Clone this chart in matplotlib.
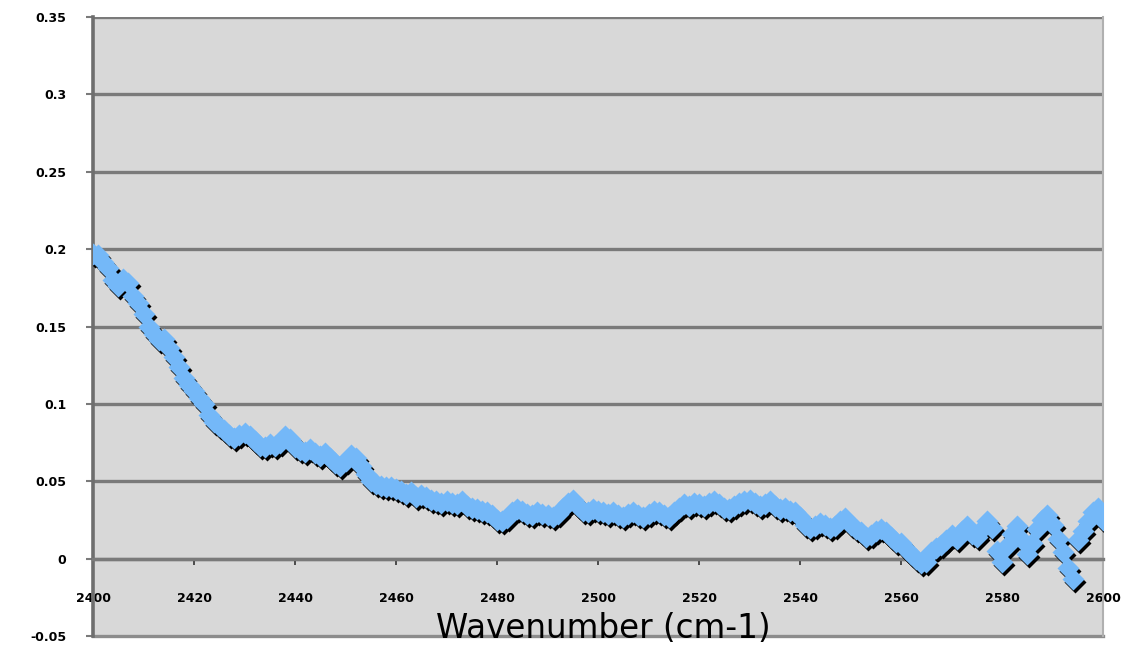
import numpy as np
import matplotlib.pyplot as plt
import matplotlib.transforms as mtransforms

# absorbance spectrum, one reading per wavenumber (cm-1)
wavenumber = np.arange(2400, 2601, 1)
absorbance = [
    0.197, 0.196, 0.192, 0.188, 0.180, 0.176, 0.181, 0.178, 0.170, 0.165,
    0.158, 0.150, 0.145, 0.141, 0.142, 0.136, 0.130, 0.124, 0.117, 0.112,
    0.108, 0.104, 0.100, 0.093, 0.088, 0.086, 0.083, 0.080, 0.078, 0.080,
    0.081, 0.079, 0.076, 0.073, 0.072, 0.074, 0.073, 0.075, 0.079, 0.077,
    0.072, 0.070, 0.069, 0.071, 0.068, 0.066, 0.068, 0.065, 0.062, 0.060,
    0.063, 0.067, 0.065, 0.060, 0.055, 0.050, 0.048, 0.047, 0.046, 0.046,
    0.045, 0.044, 0.042, 0.043, 0.040, 0.041, 0.040, 0.038, 0.037, 0.036,
    0.037, 0.036, 0.035, 0.037, 0.034, 0.033, 0.032, 0.031, 0.030, 0.028,
    0.025, 0.024, 0.026, 0.030, 0.032, 0.031, 0.029, 0.028, 0.030, 0.029,
    0.028, 0.027, 0.029, 0.033, 0.036, 0.038, 0.034, 0.031, 0.030, 0.032,
    0.031, 0.030, 0.029, 0.030, 0.028, 0.027, 0.029, 0.030, 0.028, 0.027,
    0.029, 0.031, 0.030, 0.028, 0.027, 0.030, 0.033, 0.035, 0.034, 0.036,
    0.035, 0.034, 0.036, 0.037, 0.035, 0.033, 0.032, 0.034, 0.036, 0.037,
    0.038, 0.036, 0.034, 0.035, 0.037, 0.034, 0.032, 0.033, 0.031, 0.030,
    0.027, 0.022, 0.020, 0.021, 0.023, 0.022, 0.020, 0.021, 0.024, 0.026,
    0.022, 0.019, 0.017, 0.014, 0.015, 0.018, 0.019, 0.017, 0.014, 0.011,
    0.010, 0.006, 0.003, 0.000, -0.003, -0.002, 0.004, 0.007, 0.009, 0.012,
    0.015, 0.013, 0.018, 0.021, 0.016, 0.014, 0.019, 0.024, 0.020, 0.005,
    -0.002, 0.008, 0.016, 0.021, 0.012, 0.003, 0.010, 0.019, 0.025, 0.028,
    0.022, 0.013, 0.004, -0.006, -0.013, 0.012, 0.018, 0.024, 0.030, 0.033,
    0.025,
]
x_ticks = np.arange(2400, 2601, 20)
y_ticks = [-0.05, 0, 0.05, 0.1, 0.15, 0.2, 0.25, 0.3, 0.35]
y_labels = ['-0.05', '0', '0.05', '0.1', '0.15', '0.2', '0.25', '0.3', '0.35']

fig = plt.figure(figsize=(11.3, 6.5), dpi=100)
ax = fig.add_axes([93 / 1130, 14 / 650, 1010 / 1130, 619 / 650])
ax.set_facecolor('#d8d8d8')

# drop shadow first, then the light blue diamonds on top
shadow = mtransforms.offset_copy(ax.transData, fig=fig, x=2, y=-3, units='dots')
ax.plot(wavenumber, absorbance, 'D', ms=11, color='black', mec='none',
        transform=shadow, zorder=3)
ax.plot(wavenumber, absorbance, 'D', ms=11, color='#74b8f8', mec='none', zorder=4)

ax.set_xlim(2400, 2600)
ax.set_ylim(-0.05, 0.35)
ax.set_yticks(y_ticks)
ax.set_yticklabels(y_labels)
ax.set_xticks(x_ticks)
ax.set_xticklabels([str(t) for t in x_ticks])

for y in y_ticks[1:]:
    ax.axhline(y, color='#7a7a7a', lw=2.4, zorder=1)

ax.spines['bottom'].set_position(('data', 0))
ax.spines['bottom'].set_color('#7a7a7a')
ax.spines['bottom'].set_linewidth(2.4)
ax.spines['left'].set_color('#6e6e6e')
ax.spines['left'].set_linewidth(2.6)
ax.spines['top'].set_visible(False)
ax.spines['right'].set_color('#b0b0b0')
ax.spines['right'].set_linewidth(1.5)
# lower edge of the plot area
ax.axhline(-0.05, color='#8c8c8c', lw=2.4, zorder=2, clip_on=False)

ax.tick_params(axis='y', direction='out', length=5, width=1.5, color='#7a7a7a',
               pad=14, labelsize=9)
ax.tick_params(axis='x', direction='out', length=4, width=1.2, color='#333333',
               pad=20, labelsize=9)
for lab in ax.get_xticklabels() + ax.get_yticklabels():
    lab.set_fontweight('bold')

fig.text(603 / 1130, 1 - 628 / 650, 'Wavenumber (cm-1)', ha='center', va='center',
         fontsize=23.5, color='black')

fig.savefig('out.png', dpi=100)
